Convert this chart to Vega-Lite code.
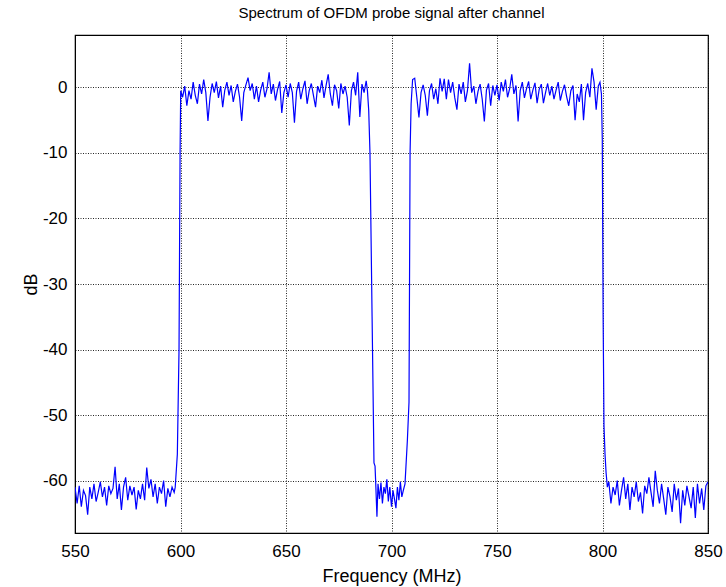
{
  "$schema": "https://vega.github.io/schema/vega-lite/v6.json",
  "autosize": {"type": "none"},
  "padding": {"left": 75, "top": 35, "right": 18, "bottom": 54},
  "width": 633,
  "height": 498,
  "background": "white",
  "title": {"text": "Spectrum of OFDM probe signal after channel", "font": "Liberation Sans", "fontSize": 15, "fontWeight": "normal", "color": "black", "offset": 14},
  "config": {
    "view": {"stroke": "black", "strokeWidth": 1.2},
    "axis": {"labelFont": "Liberation Sans", "titleFont": "Liberation Sans", "labelFontSize": 17, "titleFontSize": 18, "titleFontWeight": "normal", "labelColor": "black", "titleColor": "black", "domainColor": "black", "gridColor": "black", "gridDash": [1, 1.5], "gridWidth": 1, "gridOpacity": 0.85, "ticks": false, "labelExpr": "'' + datum.value"}
  },
  "data": {"values": [
    {"f":550,"d":-61.0},{"f":551,"d":-63.5},{"f":552,"d":-60.8},{"f":553,"d":-64.0},{"f":554,"d":-61.5},{"f":555,"d":-62.3},{"f":556,"d":-65.2},{"f":557,"d":-61.0},{"f":558,"d":-62.8},{"f":559,"d":-60.5},
    {"f":560,"d":-63.2},{"f":561,"d":-61.8},{"f":562,"d":-60.2},{"f":563,"d":-62.5},{"f":564,"d":-61.0},{"f":565,"d":-63.8},{"f":566,"d":-60.8},{"f":567,"d":-62.0},{"f":568,"d":-61.2},{"f":569,"d":-57.9},
    {"f":570,"d":-62.8},{"f":571,"d":-60.5},{"f":572,"d":-64.5},{"f":573,"d":-61.0},{"f":574,"d":-59.5},{"f":575,"d":-63.0},{"f":576,"d":-60.8},{"f":577,"d":-62.2},{"f":578,"d":-61.0},{"f":579,"d":-64.4},
    {"f":580,"d":-61.5},{"f":581,"d":-62.8},{"f":582,"d":-60.5},{"f":583,"d":-63.0},{"f":584,"d":-58.0},{"f":585,"d":-61.2},{"f":586,"d":-59.8},{"f":587,"d":-62.5},{"f":588,"d":-60.5},{"f":589,"d":-63.5},
    {"f":590,"d":-61.0},{"f":591,"d":-62.0},{"f":592,"d":-60.0},{"f":593,"d":-64.0},{"f":594,"d":-61.2},{"f":595,"d":-62.5},{"f":596,"d":-61.0},{"f":597,"d":-61.8},
    {"f":597.5,"d":-61.0},{"f":598.5,"d":-56.0},{"f":599.3,"d":-40.0},{"f":599.8,"d":-10.0},{"f":600.1,"d":-0.5},
    {"f":601,"d":-1.5},{"f":602,"d":0.2},{"f":603,"d":-2.8},{"f":604,"d":-0.5},{"f":605,"d":-1.8},{"f":606,"d":0.8},{"f":607,"d":-1.2},{"f":608,"d":-2.5},{"f":609,"d":0.5},
    {"f":610,"d":-1.0},{"f":611,"d":1.2},{"f":612,"d":-0.8},{"f":613,"d":-5.1},{"f":614,"d":-1.5},{"f":615,"d":0.6},{"f":616,"d":-0.8},{"f":617,"d":0.9},{"f":618,"d":-1.6},{"f":619,"d":0.2},
    {"f":620,"d":-3.0},{"f":621,"d":-0.4},{"f":622,"d":0.8},{"f":623,"d":-1.2},{"f":624,"d":0.3},{"f":625,"d":-2.2},{"f":626,"d":-0.6},{"f":627,"d":0.5},{"f":628,"d":-1.5},{"f":629,"d":-5.1},
    {"f":630,"d":-0.8},{"f":631,"d":0.4},{"f":632,"d":1.5},{"f":633,"d":-0.5},{"f":634,"d":0.6},{"f":635,"d":-1.8},{"f":636,"d":0.2},{"f":637,"d":-2.2},{"f":638,"d":-0.4},{"f":639,"d":0.8},
    {"f":640,"d":-1.5},{"f":641,"d":-0.2},{"f":642,"d":2.3},{"f":643,"d":-1.0},{"f":644,"d":0.5},{"f":645,"d":-2.0},{"f":646,"d":-0.3},{"f":647,"d":0.9},{"f":648,"d":-3.9},{"f":649,"d":-0.8},
    {"f":650,"d":0.4},{"f":651,"d":-1.5},{"f":652,"d":0.6},{"f":653,"d":-0.8},{"f":654,"d":-5.4},{"f":655,"d":-0.6},{"f":656,"d":0.8},{"f":657,"d":-1.8},{"f":658,"d":-0.2},{"f":659,"d":1.0},
    {"f":660,"d":-2.5},{"f":661,"d":-0.5},{"f":662,"d":0.6},{"f":663,"d":-1.2},{"f":664,"d":-3.0},{"f":665,"d":0.2},{"f":666,"d":-0.8},{"f":667,"d":1.1},{"f":668,"d":-1.6},{"f":669,"d":0.3},
    {"f":670,"d":2.0},{"f":671,"d":-1.0},{"f":672,"d":-2.8},{"f":673,"d":0.4},{"f":674,"d":-0.5},{"f":675,"d":-3.2},{"f":676,"d":0.6},{"f":677,"d":-1.0},{"f":678,"d":0.2},{"f":679,"d":-1.5},
    {"f":680,"d":-5.8},{"f":681,"d":-0.5},{"f":682,"d":0.8},{"f":683,"d":-1.2},{"f":684,"d":2.3},{"f":685,"d":-4.5},{"f":686,"d":0.5},{"f":687,"d":-0.8},{"f":688,"d":1.0},
    {"f":688.6,"d":-0.5},{"f":689.2,"d":-3.5},{"f":689.8,"d":-10.0},{"f":690.8,"d":-35.0},{"f":691.7,"d":-57.3},{"f":692.2,"d":-57.8},{"f":692.5,"d":-60.2},{"f":693.1,"d":-65.5},{"f":693.6,"d":-60.5},
    {"f":694.3,"d":-62.8},{"f":695,"d":-60.3},{"f":695.7,"d":-63.5},{"f":696.4,"d":-61.0},{"f":697.1,"d":-62.0},{"f":697.8,"d":-59.8},{"f":698.5,"d":-63.2},{"f":699.2,"d":-61.0},{"f":700,"d":-64.0},
    {"f":700.7,"d":-61.5},{"f":701.4,"d":-62.8},{"f":702.1,"d":-64.2},{"f":702.8,"d":-61.0},{"f":703.5,"d":-63.0},{"f":704.2,"d":-60.2},{"f":704.9,"d":-62.5},{"f":705.6,"d":-61.5},{"f":706.4,"d":-60.5},
    {"f":707.5,"d":-54.0},{"f":708.3,"d":-48.0},{"f":708.8,"d":-10.0},{"f":709.3,"d":-2.5},
    {"f":710,"d":1.2},{"f":711,"d":1.4},{"f":712,"d":-1.5},{"f":713,"d":-4.6},{"f":714,"d":-0.8},{"f":715,"d":0.4},{"f":716,"d":-1.2},{"f":717,"d":-4.3},{"f":718,"d":-0.5},{"f":719,"d":0.6},
    {"f":720,"d":-1.8},{"f":721,"d":-0.2},{"f":722,"d":-2.5},{"f":723,"d":1.4},{"f":724,"d":-0.6},{"f":725,"d":1.3},{"f":726,"d":-1.8},{"f":727,"d":1.2},{"f":728,"d":-0.8},{"f":729,"d":0.8},
    {"f":730,"d":-1.6},{"f":731,"d":-3.4},{"f":732,"d":0.5},{"f":733,"d":-1.0},{"f":734,"d":0.8},{"f":735,"d":-2.2},{"f":736,"d":-0.5},{"f":737,"d":3.7},{"f":738,"d":-0.8},{"f":739,"d":0.2},
    {"f":740,"d":-2.5},{"f":741,"d":-0.6},{"f":742,"d":0.5},{"f":743,"d":-1.8},{"f":744,"d":-5.2},{"f":745,"d":-0.4},{"f":746,"d":0.6},{"f":747,"d":-2.8},{"f":748,"d":0.3},{"f":749,"d":-1.2},
    {"f":750,"d":0.4},{"f":751,"d":-2.0},{"f":752,"d":0.8},{"f":753,"d":-0.6},{"f":754,"d":1.2},{"f":755,"d":-1.5},{"f":756,"d":-0.2},{"f":757,"d":2.0},{"f":758,"d":-1.0},{"f":759,"d":0.3},
    {"f":760,"d":-5.2},{"f":761,"d":-0.5},{"f":762,"d":0.8},{"f":763,"d":-1.6},{"f":764,"d":-0.2},{"f":765,"d":0.9},{"f":766,"d":-1.8},{"f":767,"d":-0.4},{"f":768,"d":0.7},{"f":769,"d":-2.4},
    {"f":770,"d":-0.3},{"f":771,"d":0.5},{"f":772,"d":-2.4},{"f":773,"d":-0.8},{"f":774,"d":0.6},{"f":775,"d":-1.2},{"f":776,"d":0.2},{"f":777,"d":-1.8},{"f":778,"d":-0.4},{"f":779,"d":0.8},
    {"f":780,"d":-2.0},{"f":781,"d":-0.6},{"f":782,"d":0.4},{"f":783,"d":-1.4},{"f":784,"d":-2.8},{"f":785,"d":-0.5},{"f":786,"d":0.3},{"f":787,"d":-5.0},{"f":788,"d":-1.0},{"f":789,"d":-2.2},
    {"f":790,"d":0.5},{"f":791,"d":-5.0},{"f":792,"d":-0.8},{"f":793,"d":0.6},{"f":794,"d":-1.5},{"f":795,"d":2.9},{"f":796,"d":0.8},{"f":797,"d":-3.4},{"f":798,"d":0.2},{"f":798.8,"d":0.8},
    {"f":799.5,"d":-1.0},{"f":799.9,"d":-8.0},{"f":800.3,"d":-35.0},{"f":800.7,"d":-51.6},{"f":801.2,"d":-56.0},{"f":801.7,"d":-58.8},{"f":802.3,"d":-61.0},
    {"f":803,"d":-60.2},{"f":804,"d":-63.5},{"f":805,"d":-61.0},{"f":806,"d":-62.2},{"f":807,"d":-60.0},{"f":808,"d":-63.8},{"f":809,"d":-61.5},
    {"f":810,"d":-59.5},{"f":811,"d":-62.8},{"f":812,"d":-60.5},{"f":813,"d":-64.5},{"f":814,"d":-61.0},{"f":815,"d":-62.5},{"f":816,"d":-60.2},{"f":817,"d":-63.2},{"f":818,"d":-61.8},{"f":819,"d":-65.0},
    {"f":820,"d":-60.8},{"f":821,"d":-62.0},{"f":822,"d":-59.5},{"f":823,"d":-61.8},{"f":824,"d":-64.0},{"f":825,"d":-58.5},{"f":826,"d":-61.5},{"f":827,"d":-63.5},{"f":828,"d":-60.5},{"f":829,"d":-62.8},
    {"f":830,"d":-65.2},{"f":831,"d":-61.0},{"f":832,"d":-62.5},{"f":833,"d":-64.8},{"f":834,"d":-60.5},{"f":835,"d":-63.0},{"f":836,"d":-61.2},{"f":837,"d":-66.5},{"f":838,"d":-61.5},{"f":839,"d":-63.8},
    {"f":840,"d":-60.8},{"f":841,"d":-62.5},{"f":842,"d":-64.2},{"f":843,"d":-61.0},{"f":844,"d":-65.7},{"f":845,"d":-60.5},{"f":846,"d":-63.5},{"f":847,"d":-61.2},{"f":848,"d":-64.5},{"f":849,"d":-60.8},{"f":850,"d":-60.2}
  ]},
  "mark": {"type": "line", "color": "#0000ff", "strokeWidth": 1.2, "clip": true},
  "encoding": {
    "x": {"field": "f", "type": "quantitative", "title": "Frequency (MHz)", "scale": {"domain": [550, 850], "nice": false, "zero": false}, "axis": {"values": [550, 600, 650, 700, 750, 800, 850], "labelPadding": 10, "titlePadding": 8, "labelFlush": false}},
    "y": {"field": "d", "type": "quantitative", "title": "dB", "scale": {"domain": [-68, 8], "nice": false, "zero": false}, "axis": {"values": [-60, -50, -40, -30, -20, -10, 0], "labelPadding": 8, "titlePadding": 2}}
  }
}
